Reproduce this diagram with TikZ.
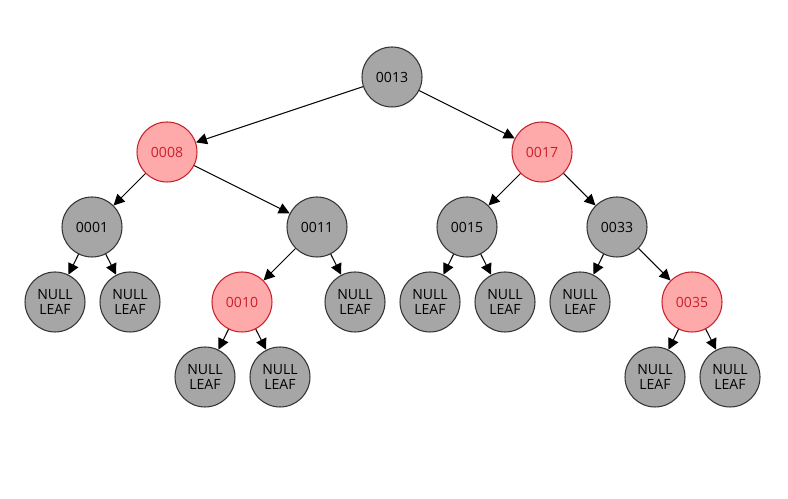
\documentclass[tikz,border=0pt]{standalone}
\usepackage{fontspec}
\setmainfont{Open Sans}
\definecolor{NodeGray}{HTML}{A6A6A6}
\definecolor{NodeRed}{HTML}{FFAAAA}
\definecolor{EdgeRed}{HTML}{C8202A}
\usetikzlibrary{arrows.meta}

\begin{document}
\begin{tikzpicture}[x=0.02cm, y=-0.02cm,
        blk/.style={circle, draw=black!80, fill=NodeGray, minimum size=1.2cm, inner sep=0pt, align=center, font=\fontsize{8}{8.5}\selectfont, line width=0.6pt},
        rd/.style={blk, draw=EdgeRed, fill=NodeRed, text=EdgeRed},
        nil/.style={blk, font=\fontsize{8}{8.2}\selectfont},
        arr/.style={-{Triangle[length=2.2mm, width=2.2mm]}, line width=0.6pt, black}
    ]
        \useasboundingbox (0,0) rectangle (788,499);
        % level 0
        \node[blk] (n13) at (392,77) {0013};
        % level 1
        \node[rd]  (n08) at (167,152) {0008};
        \node[rd]  (n17) at (542,152) {0017};
        % level 2
        \node[blk] (n01) at (92,227)  {0001};
        \node[blk] (n11) at (317,227) {0011};
        \node[blk] (n15) at (467,227) {0015};
        \node[blk] (n33) at (617,227) {0033};
        % level 3
        \node[nil] (l1) at (55,302)  {NULL\\LEAF};
        \node[nil] (l2) at (130,302) {NULL\\LEAF};
        \node[rd]  (n10) at (242,302) {0010};
        \node[nil] (l3) at (355,302) {NULL\\LEAF};
        \node[nil] (l4) at (430,302) {NULL\\LEAF};
        \node[nil] (l5) at (505,302) {NULL\\LEAF};
        \node[nil] (l6) at (580,302) {NULL\\LEAF};
        \node[rd]  (n35) at (692,302) {0035};
        % level 4
        \node[nil] (l7) at (205,377) {NULL\\LEAF};
        \node[nil] (l8) at (280,377) {NULL\\LEAF};
        \node[nil] (l9) at (655,377) {NULL\\LEAF};
        \node[nil] (l10) at (730,377) {NULL\\LEAF};
        \draw[arr] (n13) -- (n08); \draw[arr] (n13) -- (n17);
        \draw[arr] (n08) -- (n01); \draw[arr] (n08) -- (n11);
        \draw[arr] (n17) -- (n15); \draw[arr] (n17) -- (n33);
        \draw[arr] (n01) -- (l1);  \draw[arr] (n01) -- (l2);
        \draw[arr] (n11) -- (n10); \draw[arr] (n11) -- (l3);
        \draw[arr] (n15) -- (l4);  \draw[arr] (n15) -- (l5);
        \draw[arr] (n33) -- (l6);  \draw[arr] (n33) -- (n35);
        \draw[arr] (n10) -- (l7);  \draw[arr] (n10) -- (l8);
        \draw[arr] (n35) -- (l9);  \draw[arr] (n35) -- (l10);
    \end{tikzpicture}
\end{document}
